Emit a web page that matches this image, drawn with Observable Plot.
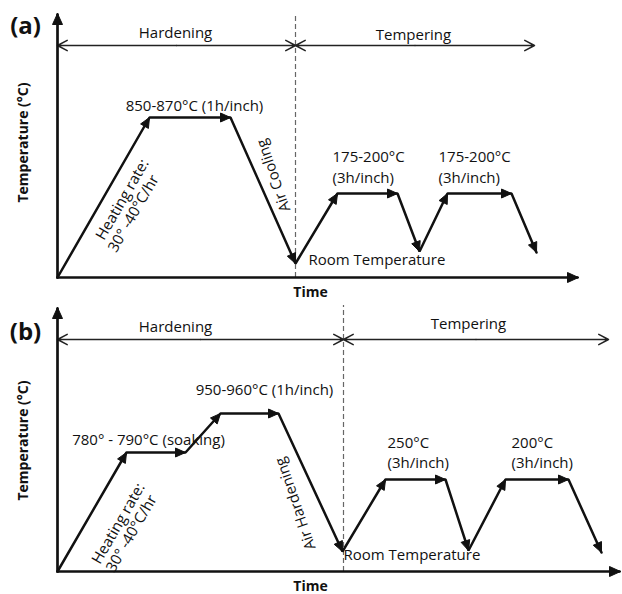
<!DOCTYPE html>
<html><head><meta charset="utf-8">
<script src="https://cdn.jsdelivr.net/npm/d3@7"></script>
<script src="https://cdn.jsdelivr.net/npm/@observablehq/plot@0.6"></script>
<style>body{margin:0;background:#fff} #chart svg{display:block}</style>
</head><body><div id="chart"></div>
<script>
// ---------- Panel (a): schematic heat-treatment cycle (time vs temperature, arbitrary units) ----------
const aTime = [0, 92, 173, 238, 280, 340, 362, 390, 454, 479];
const aTemp = [0, 160, 160, 14, 84, 84, 26, 84, 84, 25];
const aAxisEnd = {time: 521, temp: 264};
const aSplit = 238;           // end of hardening / start of tempering
const aTemperEnd = 477;
const aPhaseLevel = 232;

const aCenterText = ["Hardening", "Tempering", "850-870°C (1h/inch)", "Heating rate:", "30° -40°C/hr", "Air Cooling"];
const aCenterX    = [118, 356, 137, 65, 76, 216];
const aCenterY    = [244, 242, 171, 78, 64, 102];
const aCenterRot  = [0, 0, 0, -60, -60, -109];
const aStartText  = ["175-200°C", "(3h/inch)", "175-200°C", "(3h/inch)", "Room Temperature"];
const aStartX     = [275, 275, 381, 381, 251];
const aStartY     = [120, 99, 120, 99, 17];

// ---------- Panel (b) ----------
const bTime = [0, 69, 128, 163, 221, 285, 328, 388, 411, 448, 511, 544];
const bTemp = [0, 119, 119, 158, 158, 20, 92, 92, 21, 92, 92, 19];
const bAxisEnd = {time: 563, temp: 264};
const bSplit = 286;
const bTemperEnd = 551;
const bPhaseLevel = 232;

const bCenterText = ["Hardening", "Tempering", "950-960°C (1h/inch)", "780° - 790°C (soaking)", "Heating rate:", "30° -40°C/hr", "Air Hardening"];
const bCenterX    = [118, 411, 207, 91, 61, 74, 238];
const bCenterY    = [244, 247, 181, 131, 48, 38, 68];
const bCenterRot  = [0, 0, 0, 0, -60, -60, -109];
const bStartText  = ["250°C", "(3h/inch)", "200°C", "(3h/inch)", "Room Temperature"];
const bStartX     = [330, 330, 454, 454, 286];
const bStartY     = [128, 108, 128, 108, 16];

const FONT = "'Open Sans', sans-serif";
const INK = "#111";

function heads(segs, L, W) {
  // filled triangular arrowheads at the end of each segment (units are isotropic)
  const out = [];
  segs.forEach((s, i) => {
    const dx = s.x2 - s.x1, dy = s.y2 - s.y1, len = Math.hypot(dx, dy);
    const ux = dx / len, uy = dy / len, nx = -uy, ny = ux;
    const bx = s.x2 - L * ux, by = s.y2 - L * uy;
    out.push({id: i, x: s.x2, y: s.y2}, {id: i, x: bx + W * nx, y: by + W * ny},
             {id: i, x: bx - W * nx, y: by - W * ny}, {id: i, x: s.x2, y: s.y2});
  });
  return out;
}

function panel(o) {
  const pts = o.time.map((t, i) => ({x: t, y: o.temp[i]}));
  const segs = pts.slice(1).map((p, i) => ({x1: pts[i].x, y1: pts[i].y, x2: p.x, y2: p.y}));
  const axes = [{x1: 0, y1: -1, x2: 0, y2: o.axisEnd.temp}, {x1: -1, y1: 0, x2: o.axisEnd.time, y2: 0}];
  const mid1 = o.split / 2, mid2 = (o.split + o.temperEnd) / 2;
  const phaseArrows = [
    {x1: mid1, x2: 0}, {x1: mid1, x2: o.split},
    {x1: mid2, x2: o.split}, {x1: mid2, x2: o.temperEnd}
  ].map(d => ({...d, y1: o.level, y2: o.level}));
  const center = o.cText.map((t, i) => ({text: t, x: o.cX[i], y: o.cY[i], r: o.cR[i]}));
  const start = o.sText.map((t, i) => ({text: t, x: o.sX[i], y: o.sY[i]}));
  return Plot.plot({
    width: 622, height: o.height, margin: 0,
    x: {domain: [-57, 565], axis: null},
    y: {domain: [-23, o.height - 23], axis: null},
    style: {fontFamily: FONT, background: "#fff"},
    marks: [
      Plot.ruleX([o.split], {y1: 0, y2: o.dashTop, stroke: "#666", strokeWidth: 1.2, strokeDasharray: "5,3"}),
      Plot.arrow(phaseArrows, {x1: "x1", y1: "y1", x2: "x2", y2: "y2", stroke: "#222", strokeWidth: 1.5, headLength: 11, headAngle: 56}),
      Plot.link(axes, {x1: "x1", y1: "y1", x2: "x2", y2: "y2", stroke: INK, strokeWidth: 2.7}),
      Plot.line(heads(axes, 11, 5), {x: "x", y: "y", z: "id", fill: INK, stroke: INK, strokeWidth: 1}),
      Plot.line(pts, {x: "x", y: "y", stroke: INK, strokeWidth: 2.5, strokeLinejoin: "miter"}),
      Plot.line(heads(segs, 10, 4.5), {x: "x", y: "y", z: "id", fill: INK, stroke: INK, strokeWidth: 1}),
      Plot.text(center, {x: "x", y: "y", text: "text", rotate: "r", textAnchor: "middle", lineAnchor: "middle", fontSize: 15, fill: INK}),
      Plot.text(start, {x: "x", y: "y", text: "text", textAnchor: "start", lineAnchor: "middle", fontSize: 15, fill: INK}),
      Plot.text(["Time"], {x: 253, y: -15, text: d => d, fontWeight: "bold", fontSize: 14, fill: INK, lineAnchor: "middle"}),
      Plot.text(["Temperature (°C)"], {x: -34, y: o.tempLabelY, text: d => d, rotate: -90, fontWeight: "bold", fontSize: 14, fill: INK, lineAnchor: "middle"}),
      Plot.text([o.tag], {x: -32, y: o.tagY, text: d => d, fontWeight: "bold", fontSize: 24, fill: INK, lineAnchor: "middle"})
    ]
  });
}

const chart = document.getElementById("chart");
chart.append(panel({height: 300, time: aTime, temp: aTemp, axisEnd: aAxisEnd, split: aSplit, temperEnd: aTemperEnd,
  level: aPhaseLevel, dashTop: 264, cText: aCenterText, cX: aCenterX, cY: aCenterY, cR: aCenterRot,
  sText: aStartText, sX: aStartX, sY: aStartY, tempLabelY: 135, tag: "(a)", tagY: 251}));
chart.append(panel({height: 294, time: bTime, temp: bTemp, axisEnd: bAxisEnd, split: bSplit, temperEnd: bTemperEnd,
  level: bPhaseLevel, dashTop: 266, cText: bCenterText, cX: bCenterX, cY: bCenterY, cR: bCenterRot,
  sText: bStartText, sX: bStartX, sY: bStartY, tempLabelY: 131, tag: "(b)", tagY: 239}));
</script>
</body></html>
